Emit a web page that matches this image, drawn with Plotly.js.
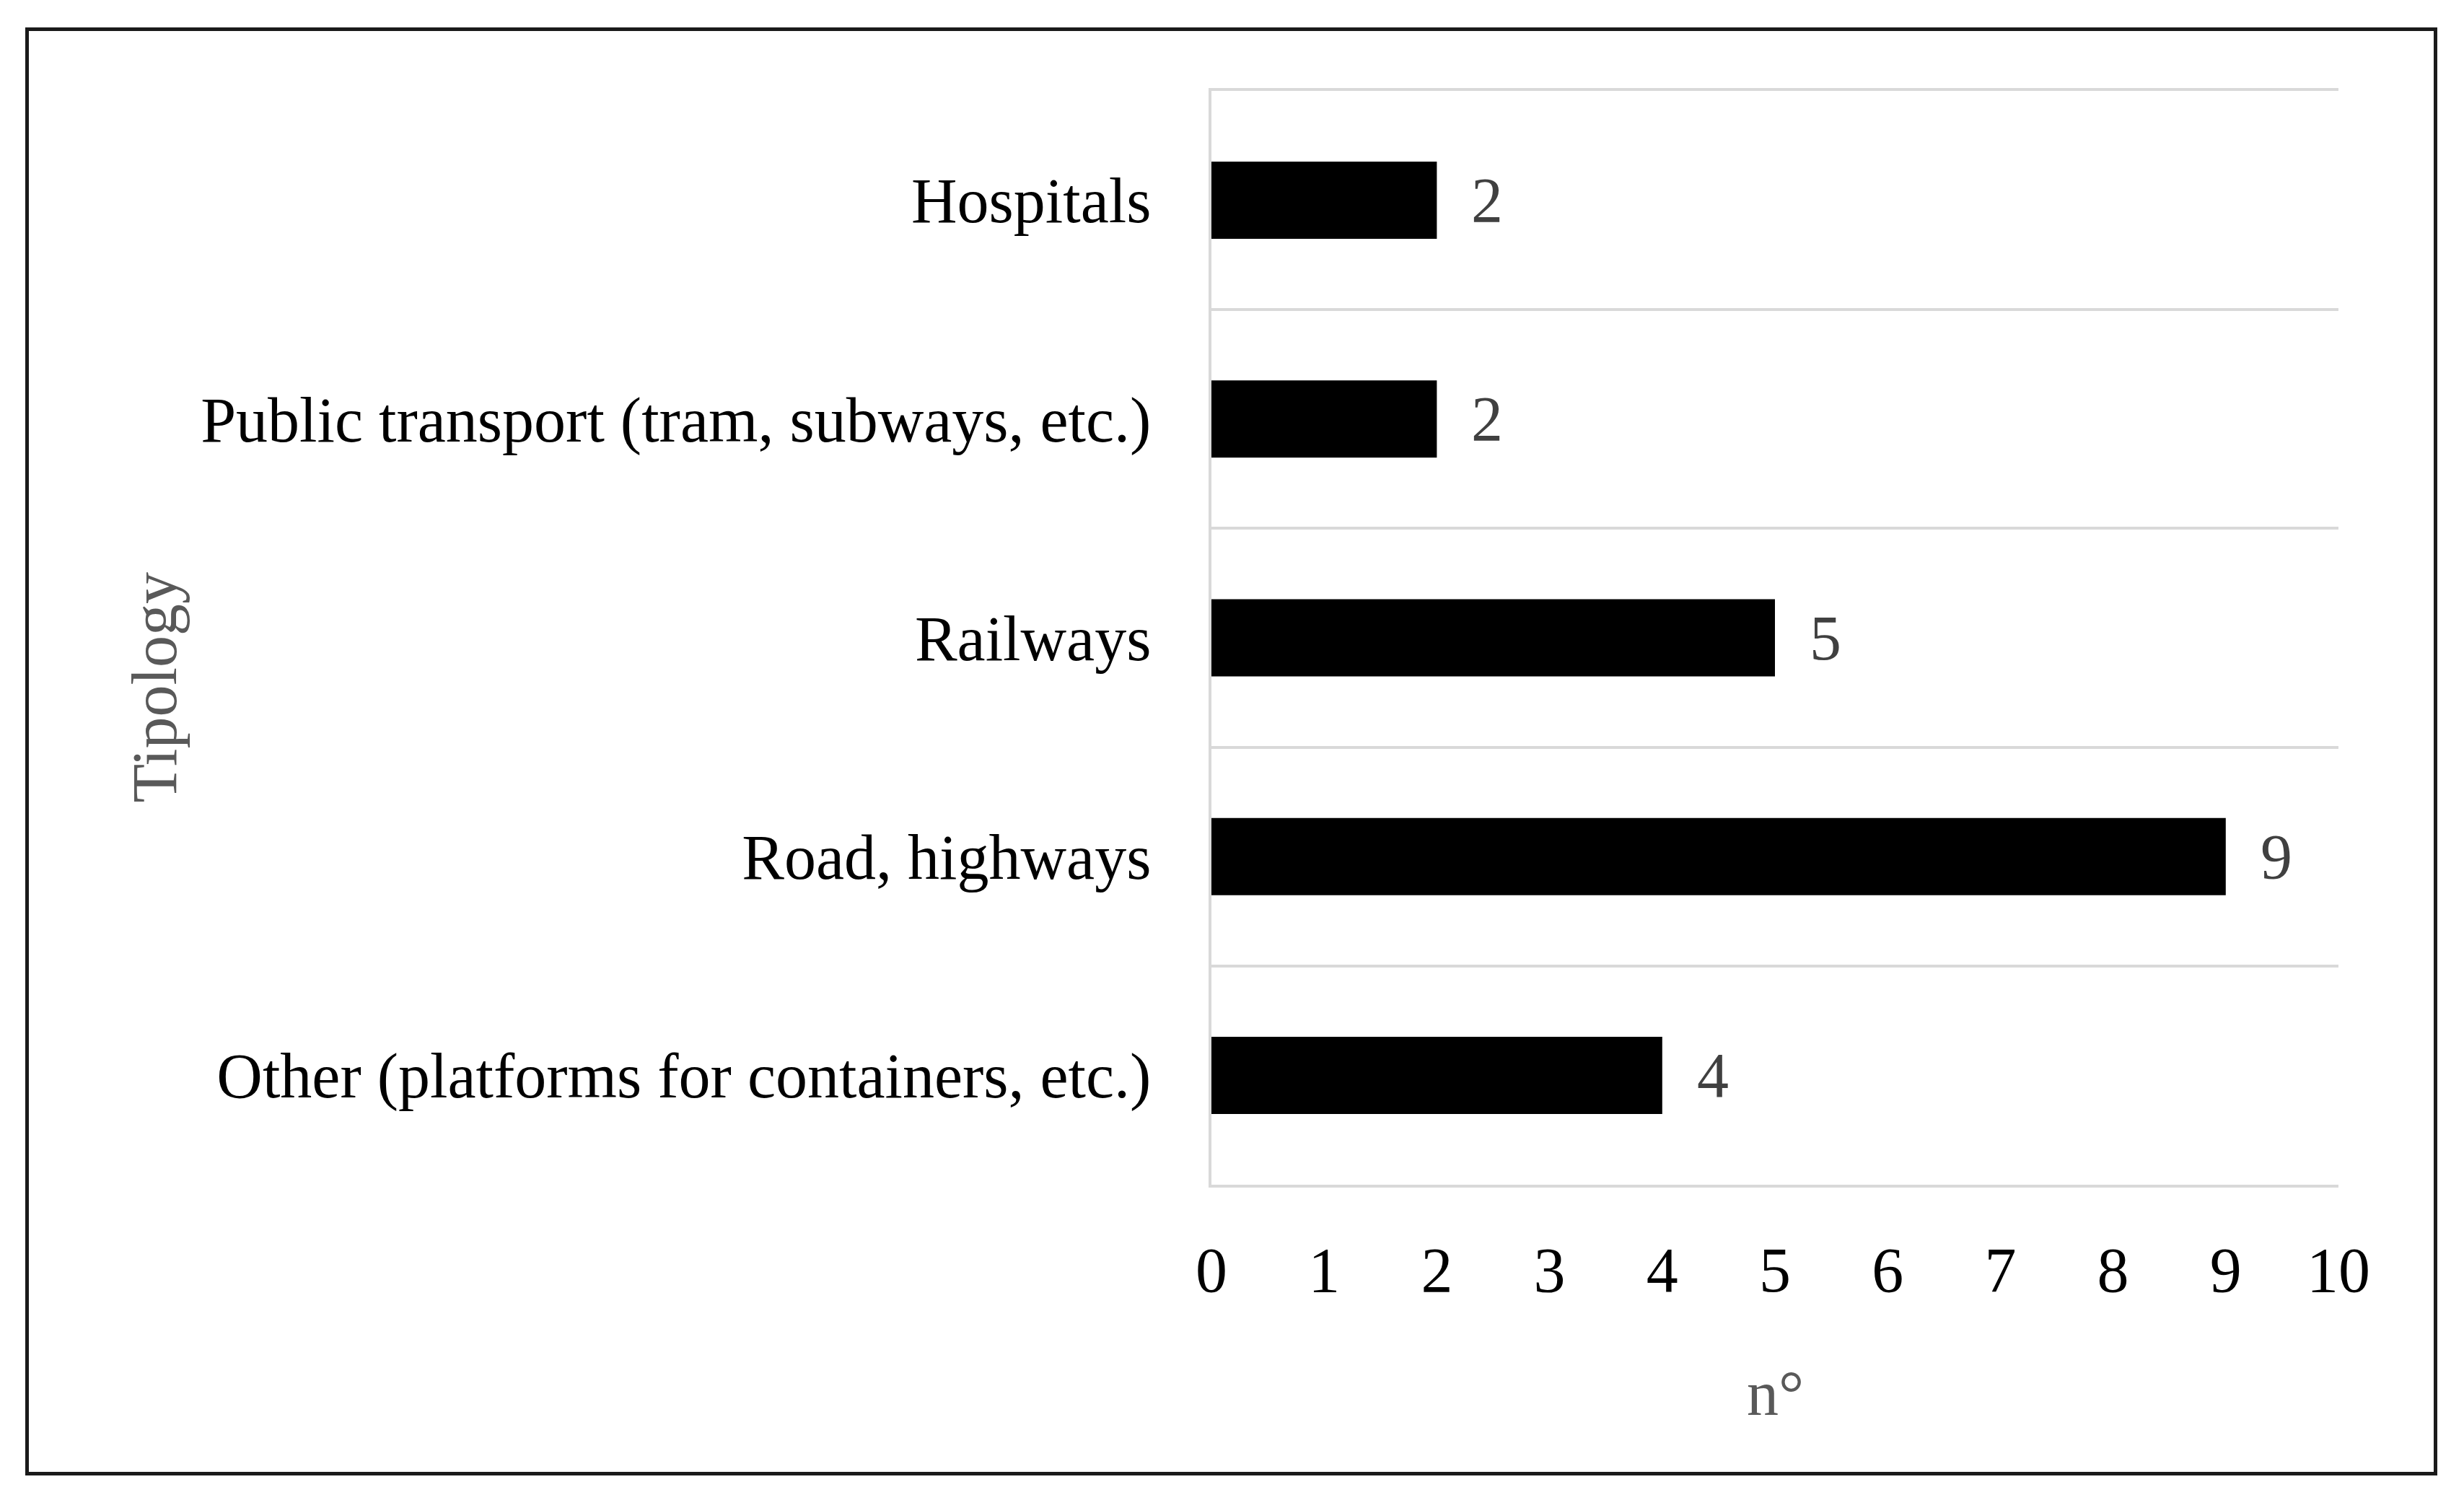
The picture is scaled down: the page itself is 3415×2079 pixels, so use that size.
<!DOCTYPE html>
<html>
<head>
<meta charset="utf-8">
<script src="https://cdn.plot.ly/plotly-3.0.1.min.js"></script>
<style>
  body { margin: 0; background: #fff; }
  #myDiv { position: absolute; left: 0; top: 0; width: 3415px; height: 2079px; }
  #frame { position: absolute; left: 35px; top: 38px; width: 3333px; height: 1997px;
           border: 5px solid #1a1a1a; pointer-events: none; }
</style>
</head>
<body>
<div id="myDiv"></div>
<div id="frame"></div>
<script>
// tipologias (de abajo hacia arriba, como las dibuja plotly)
var tipologias = ['Other (platforms for containers, etc.)', 'Road, highways', 'Railways',
  'Public transport (tram, subways, etc.)', 'Hospitals'];
var cantidades = [4, 9, 5, 2, 2];
var ticksX = [0, 1, 2, 3, 4, 5, 6, 7, 8, 9, 10];

var fuente = '"Palatino Linotype", "Book Antiqua", Palatino, P052, "URW Palladio L", "Liberation Serif", serif';
var tam = 88;

var trace1 = {
  x: cantidades,
  y: tipologias,
  type: 'bar',
  orientation: 'h',
  marker: { color: '#000000' },
  hoverinfo: 'x+y'
};

// etiquetas de valor al final de cada barra
var etiquetas = [];
for (var i = 0; i < cantidades.length; i++) {
  etiquetas.push({
    x: cantidades[i],
    y: tipologias[i],
    xref: 'x',
    yref: 'y',
    text: String(cantidades[i]),
    showarrow: false,
    xanchor: 'left',
    xshift: 46,
    font: { family: fuente, size: tam, color: '#404040' }
  });
}

etiquetas.push({
  text: 'Tipology', xref: 'paper', yref: 'paper', x: -0.970, y: 0.455,
  textangle: -90, showarrow: false,
  font: { family: fuente, size: tam, color: '#595959' }
});
etiquetas.push({
  text: 'n°', xref: 'paper', yref: 'paper', x: 0.5, y: -0.224,
  showarrow: false,
  font: { family: fuente, size: tam, color: '#595959' }
});

var layout = {
  width: 3415,
  height: 2079,
  margin: { l: 1679, r: 174, t: 126, b: 437 },
  paper_bgcolor: '#ffffff',
  plot_bgcolor: '#ffffff',
  showlegend: false,
  bargap: 0.647,
  font: { family: fuente, size: tam, color: '#000000' },
  xaxis: {
    range: [0, 10],
    tickmode: 'array',
    tickvals: ticksX,
    ticktext: ticksX.map(String),
    showgrid: false,
    zeroline: false,
    showline: true,
    mirror: true,
    linecolor: '#d9d9d9',
    linewidth: 4,
    ticks: '',
    ticklabelstandoff: 38,
    tickfont: { family: fuente, size: tam, color: '#000000' }
  },
  yaxis: {
    type: 'category',
    range: [-0.5, 4.5],
    tickson: 'boundaries',
    showgrid: true,
    gridcolor: '#d9d9d9',
    gridwidth: 4,
    showline: true,
    linecolor: '#d9d9d9',
    linewidth: 4,
    ticks: '',
    ticklabelstandoff: 62,
    tickfont: { family: fuente, size: tam, color: '#000000' }
  },
  annotations: etiquetas
};

Plotly.newPlot('myDiv', [trace1], layout, { staticPlot: true });
</script>
</body>
</html>
